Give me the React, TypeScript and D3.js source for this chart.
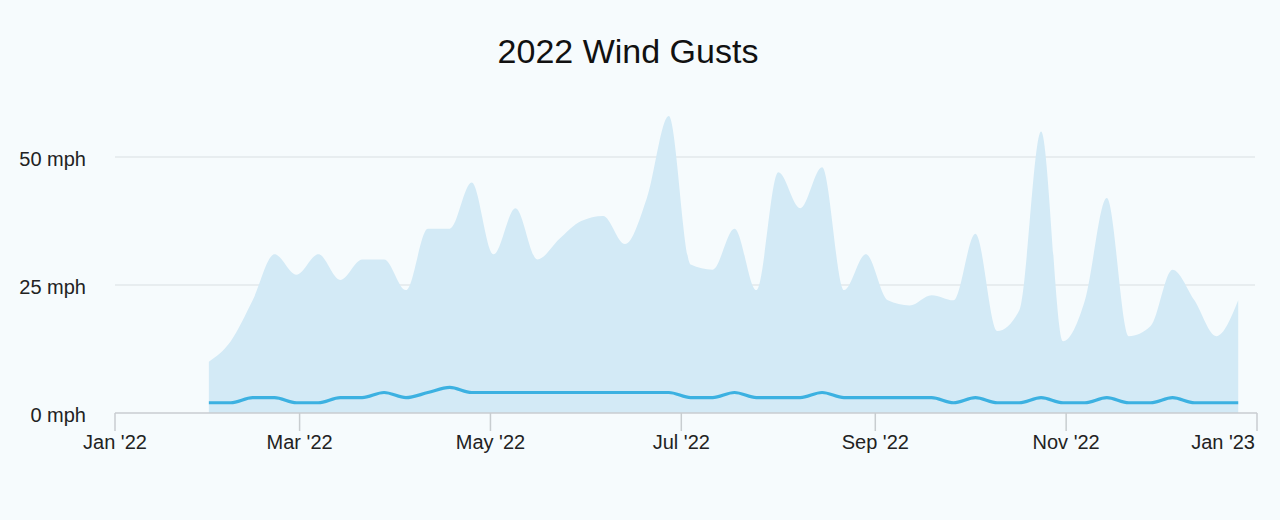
import React from 'react';
import * as d3 from 'd3';

// weekly readings, starting Mon 31 Jan 2022
const startDate = new Date(2022, 0, 31);
const gusts = [
  10, 14, 22, 31, 27, 31, 26, 30, 30, 24, 36, 36,
  45, 31, 40, 30, 34, 37.5, 38.5, 33, 42, 58,
  29, 28, 36, 24, 47, 40, 48, 24, 31, 22, 21, 23,
  22, 35, 16, 20, 55, 14, 22, 42, 15, 17, 28, 22, 15, 22,
];
const avgWind = [
  2, 2, 3, 3, 2, 2, 3, 3, 4, 3, 4, 5,
  4, 4, 4, 4, 4, 4, 4, 4, 4, 4,
  3, 3, 4, 3, 3, 3, 4, 3, 3, 3, 3, 3,
  2, 3, 2, 2, 3, 2, 2, 3, 2, 2, 3, 2, 2, 2,
];
const yTicks = [0, 25, 50];
const xTickDates = [
  new Date(2022, 0, 1), new Date(2022, 2, 1), new Date(2022, 4, 1),
  new Date(2022, 6, 1), new Date(2022, 8, 1), new Date(2022, 10, 1),
  new Date(2023, 0, 1),
];

const W = 1280;
const H = 520;
const left = 115;
const right = 1257;
const bottom = 413;

const App: React.FC = () => {
  const dates = gusts.map((_, i) => d3.timeDay.offset(startDate, i * 7));

  const x = d3.scaleTime()
    .domain([new Date(2022, 0, 1), new Date(2023, 0, 1)])
    .range([left, right]);

  const y = d3.scaleLinear()
    .domain([0, 60])
    .range([bottom, bottom - 60 * 5.12]);

  const area = d3.area<number>()
    .x((_, i) => x(dates[i]))
    .y0(y(0))
    .y1(d => y(d))
    .curve(d3.curveMonotoneX);

  const line = d3.line<number>()
    .x((_, i) => x(dates[i]))
    .y(d => y(d))
    .curve(d3.curveMonotoneX);

  const fmt = (d: Date) => d3.timeFormat("%b '%y")(d);
  const font = 'Helvetica, "Liberation Sans", Arial, sans-serif';

  return (
    <svg width={W} height={H} style={{ position: 'absolute', left: 0, top: 0 }} fontFamily={font}>
      <rect width={W} height={H} fill="#f6fbfd" />

      <text x={628} y={63} textAnchor="middle" fontSize={34} fill="#111">2022 Wind Gusts</text>

      {/* grid lines */}
      {yTicks.filter(t => t > 0).map(t => (
        <line key={t} x1={left} x2={1255} y1={y(t)} y2={y(t)} stroke="#d9dfe2" strokeWidth={1} />
      ))}

      <path d={area(gusts) || ''} fill="#d3eaf6" />
      <path d={line(avgWind) || ''} fill="none" stroke="#3cb1e1" strokeWidth={3.2} />

      {/* y labels */}
      {yTicks.map(t => (
        <text key={t} x={86} y={y(t) + 9} textAnchor="end" fontSize={20} fill="#222">{`${t} mph`}</text>
      ))}

      {/* x axis */}
      <line x1={left} x2={right} y1={bottom} y2={bottom} stroke="#c8cdd0" strokeWidth={1.5} />
      {xTickDates.map((d, i) => {
        const last = i === xTickDates.length - 1;
        return (
          <g key={d.getTime()} transform={`translate(${x(d)},0)`}>
            <line y1={bottom} y2={bottom + 18} stroke="#c8cdd0" strokeWidth={1.5} />
            <text x={last ? -2 : 0} y={449} textAnchor={last ? 'end' : 'middle'} fontSize={20} fill="#222">{fmt(d)}</text>
          </g>
        );
      })}
    </svg>
  );
};

export default App;
